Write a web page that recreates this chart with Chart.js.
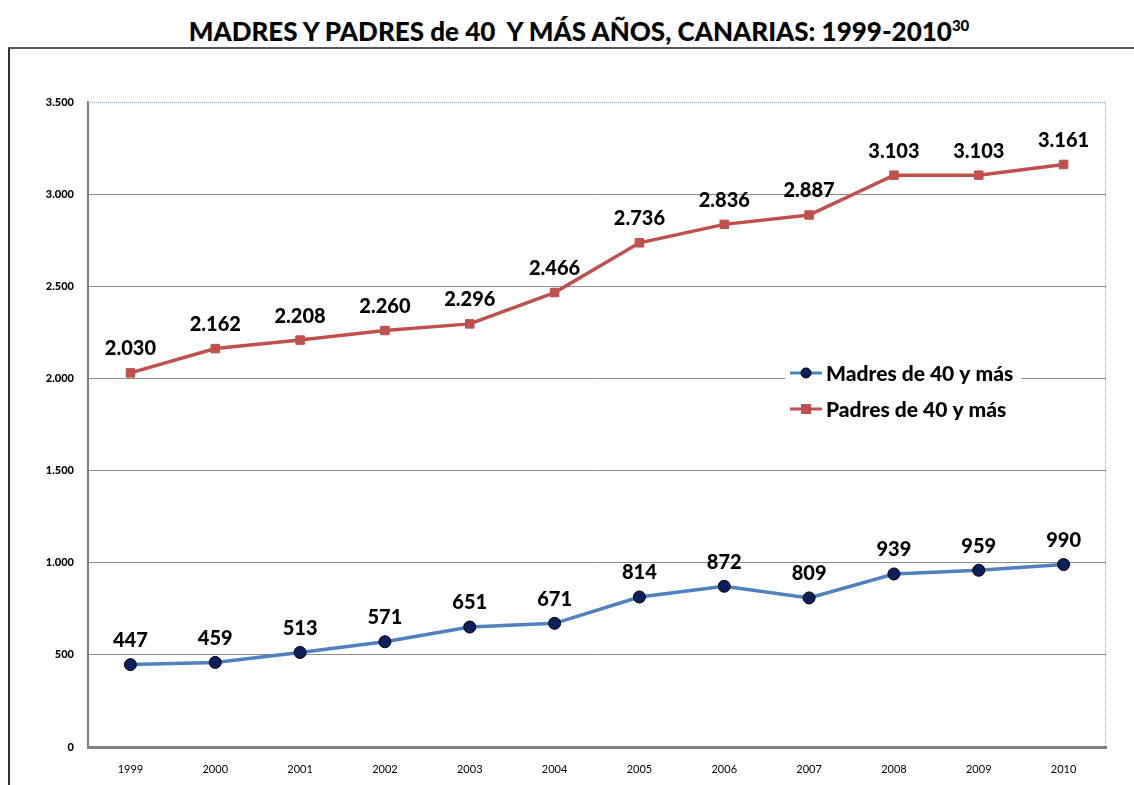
<!DOCTYPE html>
<html>
<head>
<meta charset="utf-8">
<script src="https://cdn.jsdelivr.net/npm/chart.js@4.4.0/dist/chart.umd.min.js"></script>
<style>
  body { margin: 0; background: #fff; font-family: Lato, "Open Sans", sans-serif; }
  #title { position: absolute; left: 0; top: 15px; width: 1158px; text-align: center;
           font-weight: 900; font-size: 26px; color: #000; white-space: pre; }
  #title sup { font-size: 15px; }
  #frame { position: absolute; left: 8px; top: 47px; width: 1126px; height: 738px;
           border-left: 2px solid #333; border-top: 2px solid #555; box-sizing: border-box; }
  #wrap { position: absolute; left: 10px; top: 49px; width: 1124px; height: 736px; }
</style>
</head>
<body>
<div id="title">MADRES Y PADRES de 40  Y MÁS AÑOS, CANARIAS: 1999-2010<sup>30</sup></div>
<div id="frame"></div>
<div id="wrap"><canvas id="myChart"></canvas></div>
<script>
// years on the x axis
var years = ["1999", "2000", "2001", "2002", "2003", "2004", "2005", "2006", "2007", "2008", "2009", "2010"];

// series values
var madres = [447, 459, 513, 571, 651, 671, 814, 872, 809, 939, 959, 990];
var padres = [2030, 2162, 2208, 2260, 2296, 2466, 2736, 2836, 2887, 3103, 3103, 3161];

var seriesNames = ["Madres de 40 y más", "Padres de 40 y más"];

// format numbers with a dot as thousands separator
function fmt(v) {
  return v.toString().replace(/\B(?=(\d{3})+(?!\d))/g, ".");
}

var FONT = "Lato, 'Open Sans', sans-serif";

// value labels over each point
var labelPlugin = {
  id: 'labels',
  afterDatasetsDraw: function(chart) {
    var ctx = chart.ctx;
    ctx.save();
    ctx.font = "900 20px " + FONT;
    ctx.fillStyle = "#000";
    ctx.textAlign = "center";
    ctx.textBaseline = "middle";
    chart.data.datasets.forEach(function(ds, i) {
      chart.getDatasetMeta(i).data.forEach(function(pt, j) {
        ctx.fillText(fmt(ds.data[j]), pt.x, pt.y - 24);
      });
    });
    ctx.restore();
  }
};

// dotted border on top and right of the plot, plus the legend box inside
var framePlugin = {
  id: 'frameAndLegend',
  afterDraw: function(chart) {
    var ctx = chart.ctx;
    var a = chart.chartArea;
    ctx.save();
    ctx.strokeStyle = "#8fa8cc";
    ctx.lineWidth = 1;
    ctx.setLineDash([1, 1]);
    ctx.beginPath();
    ctx.moveTo(a.left, a.top + 0.5);
    ctx.lineTo(a.right - 0.5, a.top + 0.5);
    ctx.lineTo(a.right - 0.5, a.bottom);
    ctx.stroke();
    ctx.setLineDash([]);

    // legend
    var lx = 777, ly = 324;
    ctx.fillStyle = "#fff";
    ctx.fillRect(lx - 2, ly - 16, 236, 70);
    ctx.font = "900 21px " + FONT;
    ctx.textBaseline = "middle";
    ctx.textAlign = "left";
    chart.data.datasets.forEach(function(ds, i) {
      var y = ly + i * 36;
      ctx.strokeStyle = ds.borderColor;
      ctx.lineWidth = 3;
      ctx.beginPath();
      ctx.moveTo(lx + 3, y);
      ctx.lineTo(lx + 35, y);
      ctx.stroke();
      ctx.fillStyle = ds.pointBackgroundColor;
      ctx.strokeStyle = ds.pointBorderColor;
      ctx.lineWidth = 1;
      if (ds.pointStyle === 'rect') {
        ctx.fillRect(lx + 14, y - 5, 10, 10);
      } else {
        ctx.beginPath();
        ctx.arc(lx + 19, y, 5, 0, Math.PI * 2);
        ctx.fill();
        ctx.stroke();
      }
      ctx.fillStyle = "#000";
      ctx.fillText(ds.label, lx + 39, y + 1);
    });
    ctx.restore();
  }
};

var ctx = document.getElementById("myChart");

var data = {
  labels: years,
  datasets: [{
    label: seriesNames[0],
    data: madres,
    borderColor: "#4f81bd",
    borderWidth: 3.5,
    pointStyle: 'circle',
    pointRadius: 6,
    pointBackgroundColor: "#0f1f5c",
    pointBorderColor: "#000",
    pointBorderWidth: 1,
    tension: 0
  }, {
    label: seriesNames[1],
    data: padres,
    borderColor: "#c0504d",
    borderWidth: 3.5,
    pointStyle: 'rect',
    pointRadius: 6,
    pointBackgroundColor: "#c0504d",
    pointBorderColor: "#c0504d",
    pointBorderWidth: 1,
    tension: 0
  }]
};

var options = {
  responsive: true,
  maintainAspectRatio: false,
  animation: false,
  layout: { padding: { left: 0, right: 28, top: 53, bottom: 6 } },
  plugins: {
    legend: { display: false },
    tooltip: { enabled: false }
  },
  scales: {
    x: {
      offset: true,
      grid: { display: false, drawTicks: false },
      border: { color: "#808080", width: 3 },
      ticks: { color: "#000", font: { family: FONT, size: 11 }, padding: 16 },
      afterFit: function(s) { s.height = 32; }
    },
    y: {
      min: 0,
      max: 3500,
      ticks: {
        stepSize: 500,
        color: "#000",
        padding: 14,
        font: { family: FONT, size: 11, weight: '900' },
        callback: function(v) { return fmt(v); }
      },
      grid: {
        drawTicks: false,
        color: function(c) { return c.tick.value === 3500 || c.tick.value === 0 ? "rgba(0,0,0,0)" : "#8c8c8c"; },
        lineWidth: 1
      },
      border: { color: "#808080", width: 2 },
      afterFit: function(s) { s.width = 78; }
    }
  }
};

var myChart = new Chart(ctx, {
  type: 'line',
  data: data,
  options: options,
  plugins: [labelPlugin, framePlugin]
});
</script>
</body>
</html>
